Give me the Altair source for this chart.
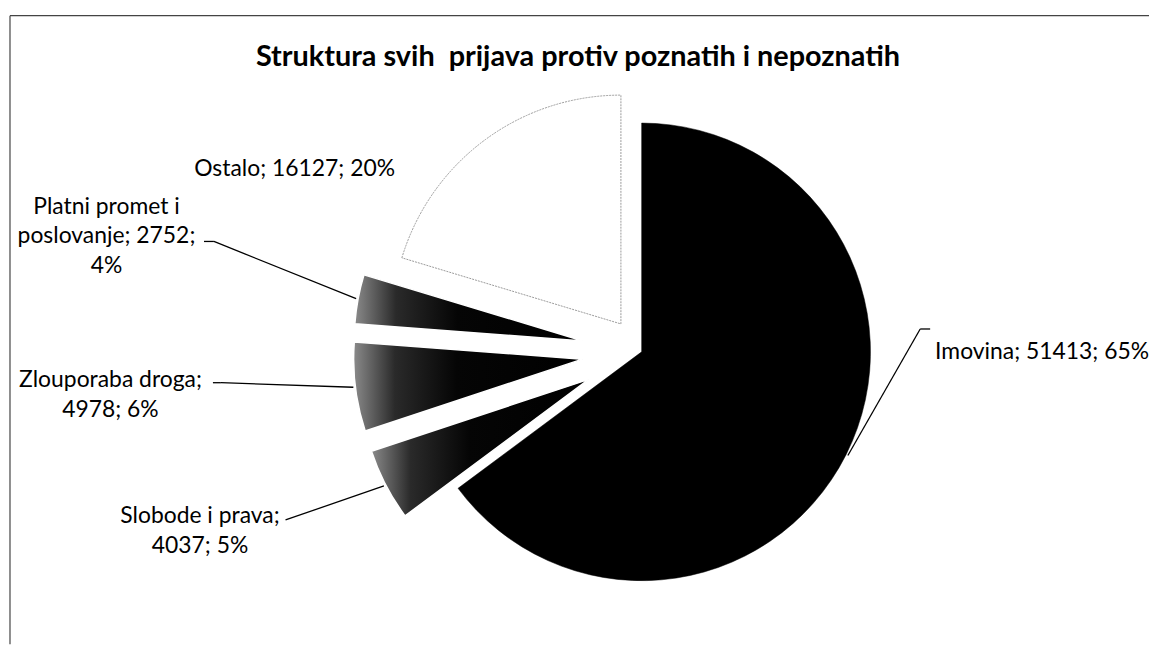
import math
import altair as alt
import pandas as pd

# ---------------- data ----------------
categories = ["Imovina", "Slobode i prava", "Zlouporaba droga",
              "Platni promet i poslovanje", "Ostalo"]
values = [51413, 4037, 4978, 2752, 16127]
percents = [65, 5, 6, 4, 20]
title_text = "Struktura svih\u00a0 prijava protiv poznatih i nepoznatih"

# ---------------- layout / style (page pixels) ----------------
W, H = 1147, 638
OX, OY = 8, 8                       # page margin -> plot origin
FONT = "Lato"
CENTER = (645, 352)                 # pie centre before explosion
R = 230                             # pie radius
EXPLODE = {"Imovina": 0, "Slobode i prava": 60, "Zlouporaba droga": 60,
           "Platni promet i poslovanje": 60, "Ostalo": 35}
FILL = {"Imovina": "big", "Slobode i prava": "small", "Zlouporaba droga": "small",
        "Platni promet i poslovanje": "small", "Ostalo": "light"}
# label line breaks (word index), anchor (page px), alignment
LABEL_LAYOUT = {
    "Imovina": dict(breaks=[], x=940, y=352, align="left"),
    "Slobode i prava": dict(breaks=[3], x=201, y=517, align="center"),
    "Zlouporaba droga": dict(breaks=[2], x=111, y=380, align="center"),
    "Platni promet i poslovanje": dict(breaks=[3, 5], x=107, y=206, align="center"),
    "Ostalo": dict(breaks=[], x=397, y=168, align="right"),
}
LINE_H = 30
# leader polylines: points on the label side (page px); the last point is on the slice
LEADER_START = {
    "Imovina": [(935, 329), (925, 329)],
    "Slobode i prava": [(287, 521)],
    "Zlouporaba droga": [(214, 383), (222, 383)],
    "Platni promet i poslovanje": [(205, 241), (215, 241)],
}

# ---------------- derived table ----------------
total = sum(values)
rows, label_rows, leader_rows = [], [], []
cum = 0.0
for cat, val, pct in zip(categories, values, percents):
    a0 = cum / total * 2 * math.pi
    cum += val
    a1 = cum / total * 2 * math.pi
    mid = (a0 + a1) / 2
    e = EXPLODE[cat]
    cx = CENTER[0] + e * math.sin(mid)
    cy = CENTER[1] - e * math.cos(mid)
    rows.append(dict(cat=cat, start=cum - val, end=cum,
                     cx=cx - OX, cy=cy - OY, kind=FILL[cat]))
    words = f"{cat}; {val}; {pct}%".split(" ")
    lay = LABEL_LAYOUT[cat]
    cuts = [0] + lay["breaks"] + [len(words)]
    lines = [" ".join(words[cuts[i]:cuts[i + 1]]) for i in range(len(cuts) - 1)]
    for i, ln in enumerate(lines):
        label_rows.append(dict(text=ln, x=lay["x"] - OX, y=lay["y"] + i * LINE_H - OY,
                               align=lay["align"]))
    if cat in LEADER_START:
        ax = cx + (R + 2) * math.sin(mid)
        ay = cy - (R + 2) * math.cos(mid)
        pts = LEADER_START[cat] + [(ax, ay)]
        for (x1, y1), (x2, y2) in zip(pts[:-1], pts[1:]):
            leader_rows.append(dict(x=x1 - OX, y=y1 - OY, x2=x2 - OX, y2=y2 - OY))

pie = pd.DataFrame(rows)
labels = pd.DataFrame(label_rows)
leaders = pd.DataFrame(leader_rows)

theta_scale = alt.Scale(domain=[0, total], range=[0, 2 * math.pi])


def arc_layer(kind, **mark):
    return alt.Chart(pie).transform_filter(alt.datum.kind == kind).mark_arc(
        radius=R, **mark
    ).encode(
        theta=alt.Theta("start:Q", scale=theta_scale, stack=None),
        theta2="end:Q",
        x=alt.X("cx:Q", scale=None, axis=None),
        y=alt.Y("cy:Q", scale=None, axis=None),
    )


small_fill = {
    "gradient": "linear", "x1": 0, "y1": 0, "x2": 1, "y2": 0,
    "stops": [{"offset": 0, "color": "#8a8a8a"},
              {"offset": 0.18, "color": "#2a2a2a"},
              {"offset": 0.45, "color": "#050505"},
              {"offset": 1, "color": "#000000"}],
}

big = arc_layer("big", fill="black", stroke="black", strokeWidth=0.5)
small = arc_layer("small", fill=small_fill, stroke="white", strokeWidth=1.5)
light = arc_layer("light", fill="white", stroke="#9a9a9a", strokeWidth=1,
                  strokeDash=[2, 1])

lead = alt.Chart(leaders).mark_rule(color="black", strokeWidth=1.3).encode(
    x=alt.X("x:Q", scale=None, axis=None), y=alt.Y("y:Q", scale=None, axis=None),
    x2="x2:Q", y2="y2:Q",
)


def text_layer(align):
    return alt.Chart(labels).transform_filter(alt.datum.align == align).mark_text(
        font=FONT, fontSize=23, color="black", align=align, baseline="middle"
    ).encode(
        x=alt.X("x:Q", scale=None, axis=None), y=alt.Y("y:Q", scale=None, axis=None),
        text="text:N",
    )


title = alt.Chart(pd.DataFrame({"t": [title_text]})).mark_text(
    font=FONT, fontSize=29, fontWeight="bold", color="black",
    align="center", baseline="middle"
).encode(x=alt.value(581 - OX), y=alt.value(56 - OY), text="t:N")

frame_top = alt.Chart(pd.DataFrame({"k": [0]})).mark_rule(
    color="#444", strokeWidth=1.2
).encode(x=alt.value(10 - OX), x2=alt.value(W), y=alt.value(14 - OY))
frame_left = alt.Chart(pd.DataFrame({"k": [0]})).mark_rule(
    color="#444", strokeWidth=1.2
).encode(x=alt.value(10 - OX), y=alt.value(14 - OY), y2=alt.value(H))

chart = alt.layer(
    frame_top, frame_left, light, small, big, lead,
    text_layer("left"), text_layer("center"), text_layer("right"), title,
).properties(
    width=W, height=H,
    autosize=alt.AutoSizeParams(type="none"),
    padding=0,
    background="white",
).configure_view(stroke=None)

chart.save("out.html", embed_options={"renderer": "svg", "actions": False})
